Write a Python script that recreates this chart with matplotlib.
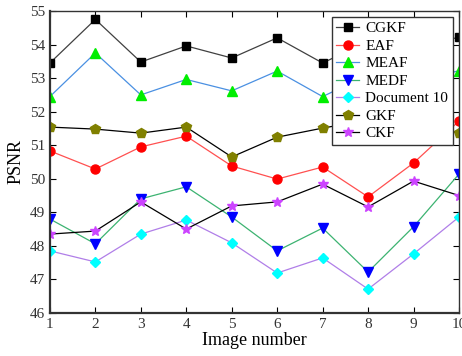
import matplotlib.pyplot as plt
import numpy as np

plt.rcParams['font.family'] = ['Liberation Serif', 'DejaVu Serif']

images = np.arange(1, 11)
cgkf = [53.45, 54.75, 53.48, 53.96, 53.6, 54.2, 53.45, 54.1, 53.9, 54.22]
eaf = [50.83, 50.29, 50.95, 51.27, 50.38, 49.99, 50.35, 49.46, 50.47, 51.72]
meaf = [52.45, 53.75, 52.5, 52.96, 52.62, 53.21, 52.45, 53.1, 52.9, 53.22]
medf = [48.8, 48.06, 49.4, 49.76, 48.86, 47.85, 48.53, 47.22, 48.57, 50.14]
doc10 = [47.85, 47.52, 48.35, 48.77, 48.09, 47.19, 47.64, 46.71, 47.76, 48.86]
gkf = [51.54, 51.48, 51.36, 51.54, 50.65, 51.24, 51.51, 51.75, 51.6, 51.37]
ckf = [48.35, 48.44, 49.31, 48.5, 49.19, 49.31, 49.84, 49.16, 49.93, 49.5]

fig = plt.figure(figsize=(4.62, 3.56), dpi=100)
ax = fig.add_axes([0.108, 0.121, 0.8855, 0.848])

ms = 6.5
ax.plot(images, cgkf, '-', color='#404040', lw=0.9, marker='s', mfc='black', mec='black', ms=5.5, label='CGKF')
ax.plot(images, eaf, '-', color='#ff5050', lw=0.9, marker='o', mfc='red', mec='red', ms=ms, label='EAF')
ax.plot(images, meaf, '-', color='#4a90e2', lw=0.9, marker='^', mfc='#00ee00', mec='#00ee00', ms=ms, label='MEAF')
ax.plot(images, medf, '-', color='#3cb371', lw=0.9, marker='v', mfc='blue', mec='blue', ms=ms, label='MEDF')
ax.plot(images, doc10, '-', color='#b07ee8', lw=0.9, marker='D', mfc='cyan', mec='cyan', ms=5.5, label='Document 10')
ax.plot(images, gkf, '-', color='black', lw=0.9, marker='p', mfc='#808000', mec='#808000', ms=7.5, label='GKF')
ax.plot(images, ckf, '-', color='black', lw=0.9, marker='*', mfc='#cc44ff', mec='#cc44ff', ms=7.5, label='CKF')

ax.set_xlim(1, 10)
ax.set_ylim(46, 55)
ax.set_xticks(images)
ax.set_yticks(np.arange(46, 56, 1))
ax.tick_params(direction='in', top=True, right=True, labelsize=11, labelcolor='#333333', length=4)
for s in ax.spines.values():
    s.set_color('#333333')
    s.set_linewidth(1.0)
ax.spines['left'].set_linewidth(1.6)
ax.spines['bottom'].set_linewidth(1.6)

ax.set_xlabel('Image number', fontsize=13, labelpad=1)
ax.set_ylabel('PSNR', fontsize=13, labelpad=4)

leg = ax.legend(loc='upper right', bbox_to_anchor=(0.9885, 0.985), fontsize=11, frameon=True, fancybox=False,
                framealpha=1, edgecolor='#333333', borderpad=0.3, labelspacing=0.25, handlelength=1.5,
                handletextpad=0.4, borderaxespad=0.1)
leg.get_frame().set_linewidth(1.0)

fig.savefig('out.png', dpi=100)
